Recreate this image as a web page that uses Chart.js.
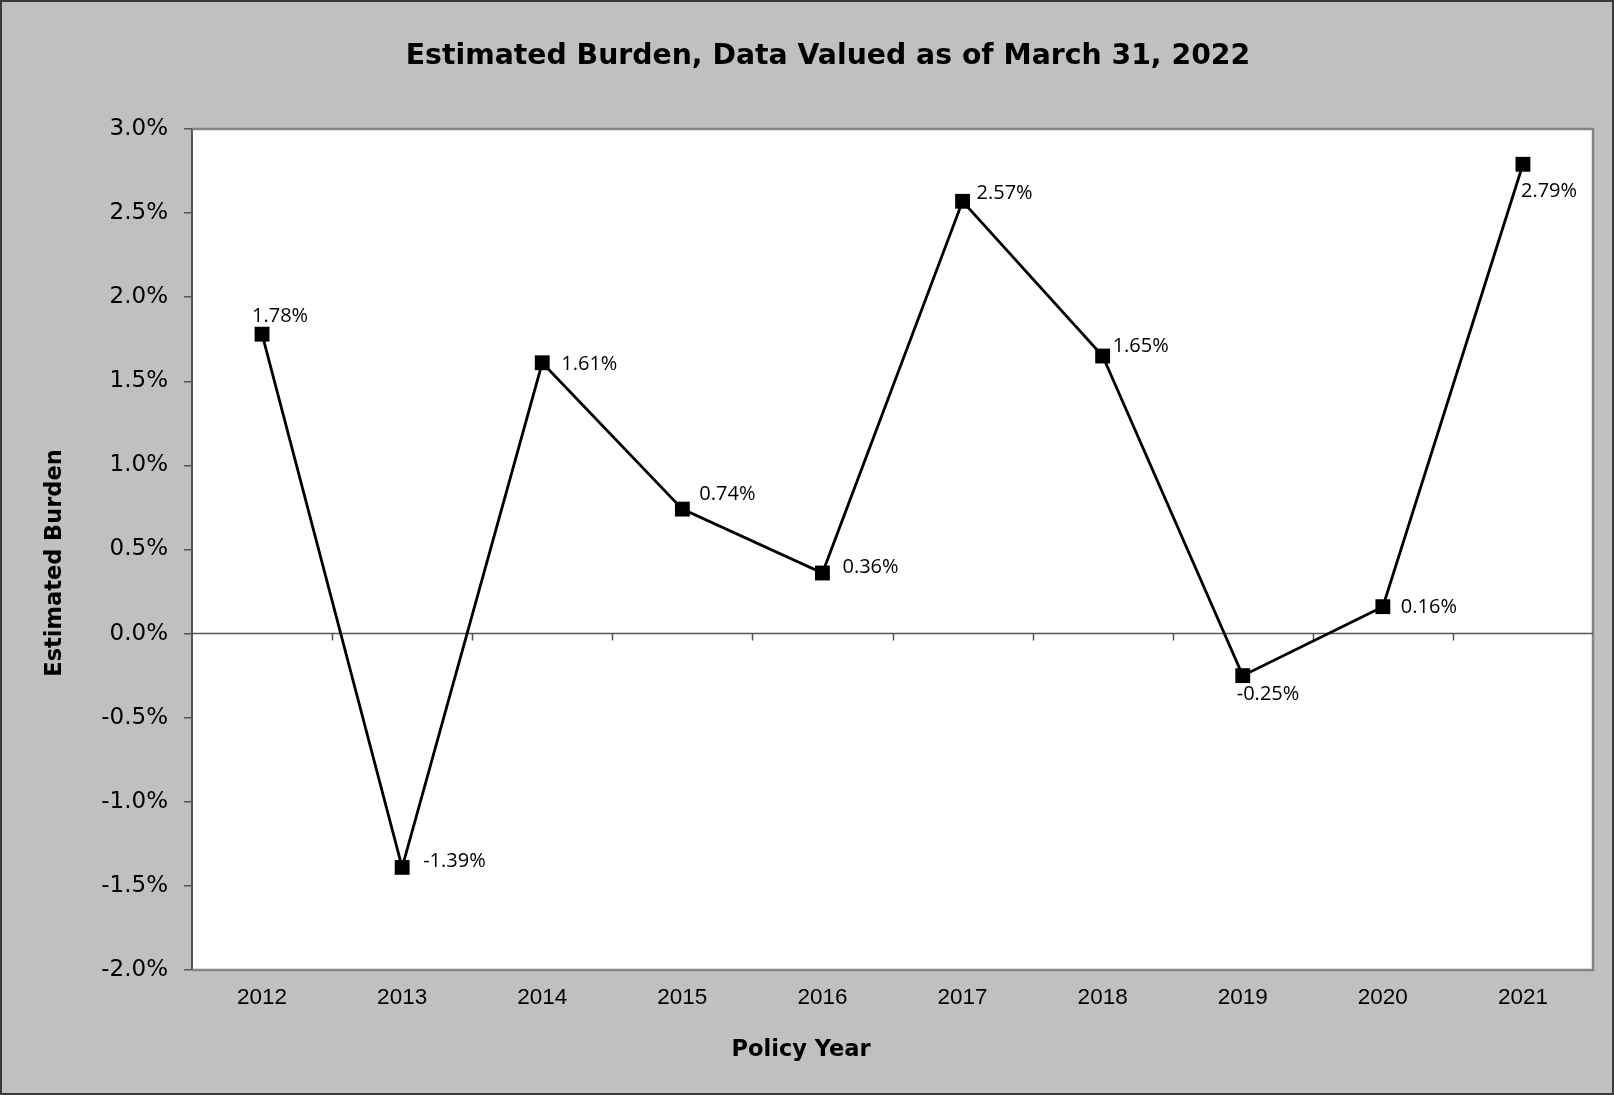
<!DOCTYPE html>
<html>
<head>
<meta charset="utf-8">
<script src="https://cdn.jsdelivr.net/npm/chart.js@4.4.1/dist/chart.umd.min.js"></script>
<style>
html,body{margin:0;padding:0;background:#c0c0c0;overflow:hidden}
#wrap{width:1614px;height:1095px}
canvas{display:block}
</style>
</head>
<body>
<div id="wrap"><canvas id="c" width="1614" height="1095"></canvas></div>
<script>
// ---- data ----
const categories = ['2012','2013','2014','2015','2016','2017','2018','2019','2020','2021'];
const burdenValues = [1.78, -1.39, 1.61, 0.74, 0.36, 2.57, 1.65, -0.25, 0.16, 2.79];
const yTickMin = -2.0;
const yTickMax = 3.0;
const yTickStep = 0.5;
const chartTitle = 'Estimated Burden, Data Valued as of March 31, 2022';
const xAxisTitle = 'Policy Year';
const yAxisTitle = 'Estimated Burden';

// ---- style (label placement relative to each marker: [dx, dy]) ----
const labelOffsets = [[-10,-18],[21,-6],[19,2],[17,-15],[20,-6],[14,-8],[10,-10],[-6,19],[18,1],[-2,27]];

const W = 1614, H = 1095;

const decor = {
  id: 'decor',
  beforeDraw(chart) {
    const ctx = chart.ctx, a = chart.chartArea;
    ctx.save();
    ctx.fillStyle = '#c0c0c0';
    ctx.fillRect(0, 0, W, H);
    ctx.fillStyle = '#ffffff';
    ctx.fillRect(a.left, a.top, a.right - a.left, a.bottom - a.top);
    ctx.restore();
  },
  beforeDatasetsDraw(chart) {
    const ctx = chart.ctx, a = chart.chartArea;
    const xs = chart.scales.x, ys = chart.scales.y;
    const zy = ys.getPixelForValue(0);
    ctx.save();
    ctx.strokeStyle = '#858585';
    ctx.lineWidth = 2.5;
    ctx.beginPath();
    ctx.moveTo(a.left, a.top);
    ctx.lineTo(a.right, a.top);
    ctx.lineTo(a.right, a.bottom);
    ctx.lineTo(a.left, a.bottom);
    ctx.stroke();
    ctx.strokeStyle = '#555555';
    ctx.lineWidth = 1.5;
    ctx.beginPath();
    ctx.moveTo(a.left, zy);
    ctx.lineTo(a.right, zy);
    for (let i = 1; i < categories.length; i++) {
      const bx = Math.round((xs.getPixelForValue(i - 1) + xs.getPixelForValue(i)) / 2) + 0.5;
      ctx.moveTo(bx, zy);
      ctx.lineTo(bx, zy + 7);
    }
    ctx.stroke();
    ctx.restore();
  },
  afterDatasetsDraw(chart) {
    const ctx = chart.ctx;
    const meta = chart.getDatasetMeta(0);
    ctx.save();
    ctx.fillStyle = '#000';
    ctx.font = '20px "Open Sans"';
    ctx.textAlign = 'left';
    ctx.textBaseline = 'middle';
    meta.data.forEach((pt, i) => {
      const v = burdenValues[i];
      const o = labelOffsets[i];
      ctx.fillText(v.toFixed(2) + '%', pt.x + o[0], pt.y + o[1]);
    });
    ctx.restore();
  },
  afterDraw(chart) {
    const ctx = chart.ctx;
    ctx.save();
    ctx.fillStyle = '#000';
    ctx.font = 'bold 22.5px "DejaVu Sans"';
    ctx.textAlign = 'center';
    ctx.textBaseline = 'middle';
    ctx.fillText(xAxisTitle, 801, 1050);
    ctx.translate(55, 563);
    ctx.rotate(-Math.PI / 2);
    ctx.fillText(yAxisTitle, 0, 0);
    ctx.restore();
    ctx.save();
    ctx.strokeStyle = '#3a3a3a';
    ctx.lineWidth = 2;
    ctx.strokeRect(1, 1, W - 2, H - 2);
    ctx.restore();
  }
};

new Chart(document.getElementById('c'), {
  type: 'line',
  data: {
    labels: categories,
    datasets: [{
      data: burdenValues,
      borderColor: '#000',
      borderWidth: 2.8,
      tension: 0,
      pointStyle: 'rect',
      pointRadius: 10.5,
      pointBackgroundColor: '#000',
      pointBorderColor: '#000',
      pointBorderWidth: 0,
      clip: false
    }]
  },
  options: {
    responsive: false,
    devicePixelRatio: 1,
    animation: false,
    layout: { padding: { left: 63, right: 21, top: 0, bottom: 0 } },
    plugins: {
      legend: { display: false },
      tooltip: { enabled: false },
      title: {
        display: true,
        text: chartTitle,
        color: '#000',
        font: { family: '"DejaVu Sans"', size: 28.3, weight: 'bold' },
        padding: { top: 40, bottom: 55 }
      }
    },
    scales: {
      x: {
        type: 'category',
        offset: true,
        grid: { display: false, drawTicks: false },
        border: { display: false },
        ticks: {
          color: '#000',
          padding: 14,
          maxRotation: 0,
          font: { family: '"Liberation Sans"', size: 22.5 }
        },
        afterFit(scale) { scale.height = 125; }
      },
      y: {
        min: yTickMin,
        max: yTickMax,
        grid: { display: true, drawOnChartArea: false, drawTicks: true, tickLength: 8, color: '#555', lineWidth: 1.5 },
        border: { display: true, color: '#555', width: 2 },
        ticks: {
          stepSize: yTickStep,
          color: '#000',
          padding: 16,
          font: { family: '"DejaVu Sans"', size: 23 },
          callback: (v) => v.toFixed(1) + '%'
        },
        afterFit(scale) { scale.width = 129; }
      }
    }
  },
  plugins: [decor]
});
</script>
</body>
</html>
